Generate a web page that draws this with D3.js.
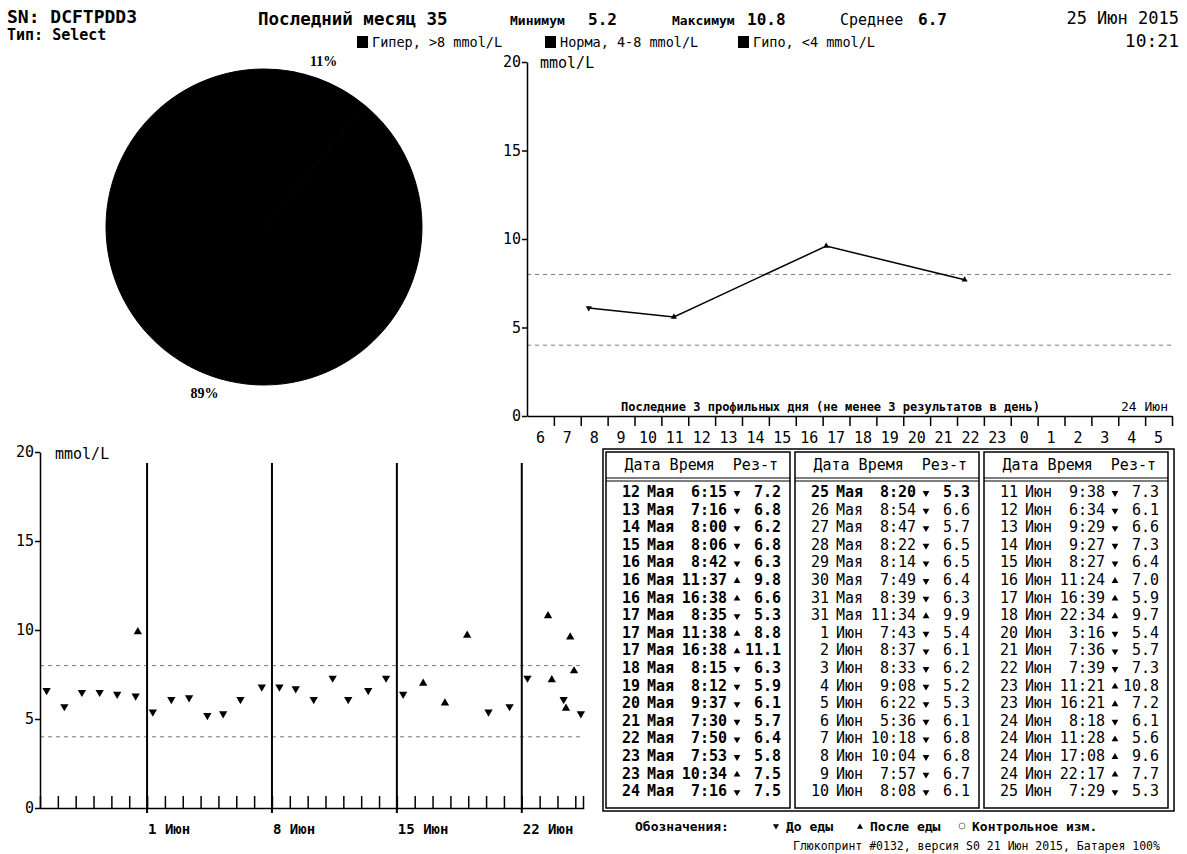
<!DOCTYPE html>
<html>
<head>
<meta charset="utf-8">
<script src="https://cdn.jsdelivr.net/npm/d3@7"></script>
<style>
  body { margin: 0; background: #fff; }
  svg { display: block; }
  text { font-family: "DejaVu Sans Mono", monospace; fill: #000; white-space: pre; }
</style>
</head>
<body>
<svg id="chart" width="1187" height="854"></svg>
<script>
// readings as printed in the table (day, month, time, meal flag, mmol/L)
const readingDays = [12, 13, 14, 15, 16, 16, 16, 17, 17, 17, 18, 19, 20, 21, 22, 23, 23, 24,
                     25, 26, 27, 28, 29, 30, 31, 31, 1, 2, 3, 4, 5, 6, 7, 8, 9, 10,
                     11, 12, 13, 14, 15, 16, 17, 18, 20, 21, 22, 23, 23, 24, 24, 24, 24, 25];
const readingMonths = [
  "Мая", "Мая", "Мая", "Мая", "Мая", "Мая", "Мая", "Мая", "Мая", "Мая", "Мая", "Мая", "Мая", "Мая", "Мая", "Мая", "Мая", "Мая",
  "Мая", "Мая", "Мая", "Мая", "Мая", "Мая", "Мая", "Мая", "Июн", "Июн", "Июн", "Июн", "Июн", "Июн", "Июн", "Июн", "Июн", "Июн",
  "Июн", "Июн", "Июн", "Июн", "Июн", "Июн", "Июн", "Июн", "Июн", "Июн", "Июн", "Июн", "Июн", "Июн", "Июн", "Июн", "Июн", "Июн"];
const readingTimes = [
  "6:15", "7:16", "8:00", "8:06", "8:42", "11:37", "16:38", "8:35", "11:38", "16:38", "8:15", "8:12", "9:37", "7:30", "7:50", "7:53", "10:34", "7:16",
  "8:20", "8:54", "8:47", "8:22", "8:14", "7:49", "8:39", "11:34", "7:43", "8:37", "8:33", "9:08", "6:22", "5:36", "10:18", "10:04", "7:57", "8:08",
  "9:38", "6:34", "9:29", "9:27", "8:27", "11:24", "16:39", "22:34", "3:16", "7:36", "7:39", "11:21", "16:21", "8:18", "11:28", "17:08", "22:17", "7:29"];
const readingMeals = [
  "pre", "pre", "pre", "pre", "pre", "post", "post", "pre", "post", "post", "pre", "pre", "pre", "pre", "pre", "pre", "post", "pre",
  "pre", "pre", "pre", "pre", "pre", "pre", "pre", "post", "pre", "pre", "pre", "pre", "pre", "pre", "pre", "pre", "pre", "pre",
  "pre", "pre", "pre", "pre", "pre", "post", "post", "post", "pre", "pre", "pre", "post", "post", "pre", "post", "post", "post", "pre"];
const readingValues = [
  7.2, 6.8, 6.2, 6.8, 6.3, 9.8, 6.6, 5.3, 8.8, 11.1, 6.3, 5.9, 6.1, 5.7, 6.4, 5.8, 7.5, 7.5,
  5.3, 6.6, 5.7, 6.5, 6.5, 6.4, 6.3, 9.9, 5.4, 6.1, 6.2, 5.2, 5.3, 6.1, 6.8, 6.8, 6.7, 6.1,
  7.3, 6.1, 6.6, 7.3, 6.4, 7.0, 5.9, 9.7, 5.4, 5.7, 7.3, 10.8, 7.2, 6.1, 5.6, 9.6, 7.7, 5.3];

const rangeNames = ["Гипер, >8 mmol/L", "Норма, 4-8 mmol/L", "Гипо, <4 mmol/L"];
const rangePercents = [11, 89, 0];
const normLow = 4, normHigh = 8;
const yTicks = [0, 5, 10, 15, 20];
const monthIndex = { "Мая": 4, "Июн": 5 };
const monthShort = ["Янв", "Фев", "Мар", "Апр", "Мая", "Июн", "Июл", "Авг", "Сен", "Окт", "Ноя", "Дек"];
const reportDate = new Date(2015, 5, 25, 10, 21);

const readings = readingDays.map((d, i) => {
  const [h, m] = readingTimes[i].split(":").map(Number);
  return {
    day: d, month: readingMonths[i], time: readingTimes[i], meal: readingMeals[i],
    value: readingValues[i], hour: h + m / 60,
    date: new Date(2015, monthIndex[readingMonths[i]], d, h, m)
  };
});
const monthStart = d3.timeDay.offset(d3.timeDay.floor(reportDate), -30);
const lastMonth = readings.filter(r => r.date >= monthStart);

const svg = d3.select("#chart");
svg.append("rect").attr("width", 1187).attr("height", 854).attr("fill", "#fff");

const tri = d3.symbol(d3.symbolTriangle);
function markers(g, data, xf, yf, size) {
  g.selectAll(null).data(data).enter().append("path")
    .attr("d", tri.size(size)())
    .attr("fill", "#000")
    .attr("transform", d => `translate(${xf(d)},${yf(d)}) rotate(${d.meal === "pre" ? 180 : 0})`);
}

// ---------- header ----------
const head = svg.append("g");
head.append("text").attr("x", 7).attr("y", 23).attr("font-size", 18).attr("font-weight", "bold").text("SN: DCFTPDD3");
head.append("text").attr("x", 7).attr("y", 40).attr("font-size", 15).attr("font-weight", "bold").text("Тип: Select");
head.append("text").attr("x", 258).attr("y", 25).attr("font-size", 17.5).attr("font-weight", "bold")
  .text(`Последний месяц ${lastMonth.length}`);

const stats = [
  { label: "Минимум", value: d3.min(lastMonth, d => d.value), x: 510, vx: 588 },
  { label: "Максимум", value: d3.max(lastMonth, d => d.value), x: 672, vx: 747 },
  { label: "Среднее", value: d3.mean(lastMonth, d => d.value), x: 840, vx: 918 }
];
stats.forEach((s, i) => {
  head.append("text").attr("x", s.x).attr("y", 25)
    .attr("font-size", i === 2 ? 15 : 13).attr("font-weight", i === 2 ? "normal" : "bold").text(s.label);
  head.append("text").attr("x", s.vx).attr("y", 25).attr("font-size", 16).attr("font-weight", "bold")
    .text(s.value.toFixed(1));
});
head.append("text").attr("x", 1179).attr("y", 24).attr("font-size", 17).attr("text-anchor", "end")
  .text(`${reportDate.getDate()} ${monthShort[reportDate.getMonth()]} ${reportDate.getFullYear()}`);
head.append("text").attr("x", 1179).attr("y", 47).attr("font-size", 18).attr("text-anchor", "end")
  .text(d3.timeFormat("%H:%M")(reportDate));

const legendX = [357, 545, 738];
rangeNames.forEach((n, i) => {
  head.append("rect").attr("x", legendX[i]).attr("y", 36).attr("width", 11).attr("height", 12).attr("fill", "#000");
  head.append("text").attr("x", legendX[i] + 15).attr("y", 47).attr("font-size", 13.5).attr("fill", "#222").text(n);
});

// ---------- pie ----------
const pie = d3.pie().sort(null).value(d => d);
const pieR = 158;
const pg = svg.append("g").attr("transform", "translate(264,227)");
const arc = d3.arc().innerRadius(0).outerRadius(pieR);
const labelArc = d3.arc().innerRadius(176).outerRadius(176);
const arcs = pie(rangePercents);
pg.selectAll(".slice").data(arcs).enter().append("path")
  .attr("class", "slice").attr("d", arc).attr("fill", "#000").attr("stroke", "#000");
pg.selectAll(".plabel").data(arcs.filter(d => d.data > 0)).enter().append("text")
  .attr("class", "plabel")
  .attr("transform", d => `translate(${labelArc.centroid(d)})`)
  .attr("dy", ".35em").attr("text-anchor", "middle")
  .style("font-family", "'Liberation Serif', serif").attr("font-weight", "bold").attr("font-size", 14)
  .text(d => d.data + "%");

// ---------- daily profile chart ----------
const hx = d3.scaleLinear().domain([6, 30]).range([527, 1172]);
const hy = d3.scaleLinear().domain([0, 20]).range([416, 62]);
const tg = svg.append("g");

[normHigh, normLow].forEach(v => {
  tg.append("line").attr("x1", hx(6)).attr("x2", hx(30)).attr("y1", hy(v)).attr("y2", hy(v))
    .attr("stroke", "#777").attr("stroke-dasharray", "4,4");
});

tg.append("g").attr("transform", `translate(0,${hy(0)})`)
  .call(d3.axisBottom(hx).tickValues(d3.range(7, 31)).tickFormat("").tickSize(10).tickSizeOuter(0))
  .call(g => g.selectAll("line,path").attr("stroke", "#000").attr("stroke-width", 1.5));
tg.selectAll(".hlabel").data(d3.range(6, 30)).enter().append("text")
  .attr("class", "hlabel").attr("x", d => hx(d + 0.5)).attr("y", 443)
  .attr("text-anchor", "middle").attr("font-size", 15).text(d => d % 24);

tg.append("g").attr("transform", `translate(${hx(6)},0)`)
  .call(d3.axisLeft(hy).tickValues(yTicks).tickSize(5).tickPadding(1).tickSizeOuter(0))
  .call(g => g.selectAll("line,path").attr("stroke", "#000").attr("stroke-width", 1.5))
  .call(g => g.selectAll("text").attr("font-size", 15).attr("fill", "#000")
    .style("font-family", "'DejaVu Sans Mono', monospace"));
tg.append("text").attr("x", 540).attr("y", 68).attr("font-size", 15).text("mmol/L");

// profile days: days in the last month with at least 3 readings
const byDay = d3.groups(lastMonth, d => d3.timeDay.floor(d.date)).filter(g => g[1].length >= 3);
const hourOf = d => d.hour < 6 ? d.hour + 24 : d.hour;
const line = d3.line().x(d => hx(hourOf(d))).y(d => hy(d.value));
byDay.forEach(([day, rs]) => {
  tg.append("path").datum(rs).attr("d", line).attr("fill", "none").attr("stroke", "#000").attr("stroke-width", 1.5);
  markers(tg, rs, d => hx(hourOf(d)), d => hy(d.value), 16);
});
tg.append("text").attr("x", 621).attr("y", 411).attr("font-size", 12).attr("font-weight", "bold")
  .text("Последние 3 профильных дня (не менее 3 результатов в день)");
const lastProfile = byDay.length ? byDay[byDay.length - 1][0] : reportDate;
tg.append("text").attr("x", 1168).attr("y", 411).attr("font-size", 13).attr("text-anchor", "end").attr("fill", "#555")
  .text(`${lastProfile.getDate()} ${monthShort[lastProfile.getMonth()]}`);

// ---------- month chart ----------
const dx = d3.scaleTime().domain([monthStart, reportDate]).range([40, 583]);
const dy = d3.scaleLinear().domain([0, 20]).range([808, 452]);
const bg = svg.append("g");

[normHigh, normLow].forEach(v => {
  bg.append("line").attr("x1", dx.range()[0]).attr("x2", dx.range()[1]).attr("y1", dy(v)).attr("y2", dy(v))
    .attr("stroke", "#777").attr("stroke-dasharray", "4,4");
});

const weeks = d3.timeMonday.range(monthStart, reportDate);
bg.selectAll(".week").data(weeks).enter().append("line")
  .attr("x1", d => dx(d)).attr("x2", d => dx(d)).attr("y1", 463).attr("y2", dy(0) + 5)
  .attr("stroke", "#000").attr("stroke-width", 2);
bg.selectAll(".wlabel").data(weeks).enter().append("text")
  .attr("x", d => dx(d) + 1).attr("y", 834).attr("font-size", 14).attr("font-weight", "bold")
  .text(d => `${d.getDate()} ${monthShort[d.getMonth()]}`);

bg.append("g").attr("transform", `translate(0,${dy(0)})`)
  .call(d3.axisBottom(dx).tickValues(d3.timeDay.range(d3.timeDay.offset(monthStart, 1), reportDate))
    .tickFormat("").tickSize(-12).tickSizeOuter(-12))
  .call(g => g.selectAll("line,path").attr("stroke", "#000").attr("stroke-width", 1.5));

bg.append("g").attr("transform", `translate(${dx.range()[0]},0)`)
  .call(d3.axisLeft(dy).tickValues(yTicks).tickSize(5).tickPadding(1).tickSizeOuter(0))
  .call(g => g.selectAll("line,path").attr("stroke", "#000").attr("stroke-width", 1.5))
  .call(g => g.selectAll("text").attr("font-size", 15).attr("fill", "#000")
    .style("font-family", "'DejaVu Sans Mono', monospace"));
bg.append("text").attr("x", 55).attr("y", 459).attr("font-size", 15).text("mmol/L");

markers(bg, lastMonth, d => dx(d.date), d => dy(d.value), 30);

// ---------- table ----------
const rowsPerCol = 18;
const colLefts = [606, 795, 984];
const colW = 186;
const tb = svg.append("g");
tb.append("rect").attr("x", 603).attr("y", 449).attr("width", 571).attr("height", 362)
  .attr("fill", "none").attr("stroke", "#000").attr("stroke-width", 1.5);
colLefts.forEach(L => {
  tb.append("rect").attr("x", L).attr("y", 452).attr("width", colW - 2).attr("height", 356)
    .attr("fill", "none").attr("stroke", "#000").attr("stroke-width", 1.5);
  tb.append("line").attr("x1", L).attr("x2", L + colW - 2).attr("y1", 478).attr("y2", 478).attr("stroke", "#000").attr("stroke-width", 1.2);
  tb.append("line").attr("x1", L).attr("x2", L + colW - 2).attr("y1", 481).attr("y2", 481).attr("stroke", "#000").attr("stroke-width", 1.2);
  tb.append("text").attr("x", L + 172).attr("y", 470).attr("font-size", 15).attr("text-anchor", "end")
    .text("Дата Время  Рез-т");
});

readings.forEach((r, i) => {
  const L = colLefts[Math.floor(i / rowsPerCol)];
  const y = 492 + (i % rowsPerCol) * 17.6;
  const old = r.date < monthStart;
  const g = tb.append("g").attr("font-size", 15).attr("font-weight", old ? "bold" : "normal");
  const col = old ? "#000" : "#333";
  g.append("text").attr("x", L + 34).attr("y", y + 5).attr("text-anchor", "end").attr("fill", col).text(r.day);
  g.append("text").attr("x", L + 41).attr("y", y + 5).attr("fill", col).text(r.month);
  g.append("text").attr("x", L + 121).attr("y", y + 5).attr("text-anchor", "end").attr("fill", col).text(r.time);
  g.append("text").attr("x", L + 175).attr("y", y + 5).attr("text-anchor", "end").attr("fill", col).text(r.value.toFixed(1));
  markers(g, [r], () => L + 131, () => y + 1, 20);
});

// ---------- footer ----------
const ft = svg.append("g").attr("font-size", 13).attr("font-weight", "bold");
ft.append("text").attr("x", 635).attr("y", 831).text("Обозначения:");
markers(ft, [{ meal: "pre" }], () => 776, () => 826, 16);
ft.append("text").attr("x", 786).attr("y", 831).text("До еды");
markers(ft, [{ meal: "post" }], () => 860, () => 827, 16);
ft.append("text").attr("x", 870).attr("y", 831).text("После еды");
ft.append("circle").attr("cx", 962).attr("cy", 826).attr("r", 3).attr("fill", "none").attr("stroke", "#888");
ft.append("text").attr("x", 972).attr("y", 831).text("Контрольное изм.");
svg.append("text").attr("x", 793).attr("y", 850).attr("font-size", 11.5).attr("fill", "#333")
  .text("Глюкопринт #0132, версия S0 21 Июн 2015, Батарея 100%");
</script>
</body>
</html>
